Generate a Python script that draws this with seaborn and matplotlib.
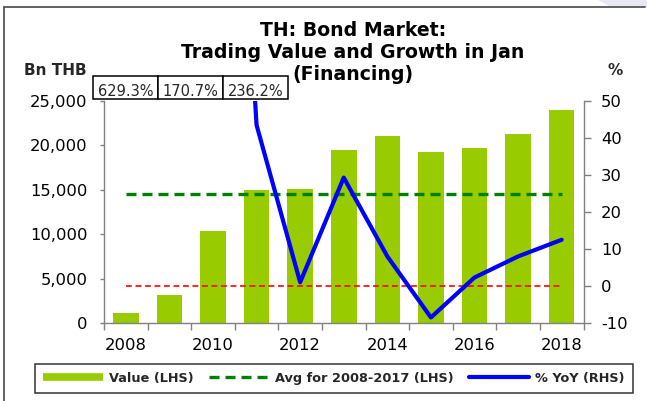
import numpy as np
import pandas as pd
import matplotlib
matplotlib.use("Agg")
import matplotlib.pyplot as plt
import seaborn as sns
from matplotlib.lines import Line2D
from matplotlib.patches import Rectangle, Polygon

# ---------------- data ----------------
years = [2008, 2009, 2010, 2011, 2012, 2013, 2014, 2015, 2016, 2017, 2018]
values = [1150, 3100, 10400, 14950, 15100, 19500, 21100, 19300, 19750, 21300, 24000]
yoy = [629.3, 170.7, 236.2, 43.5, 1.0, 29.3, 8.0, -8.5, 2.3, 8.0, 12.5]
avg_years = (2008, 2017)
tick_years = [2008, 2010, 2012, 2014, 2016, 2018]
left_ticks = [0, 5000, 10000, 15000, 20000, 25000]
right_ticks = [-10, 0, 10, 20, 30, 40, 50]
title_lines = ["TH: Bond Market:", "Trading Value and Growth in Jan", "(Financing)"]
left_unit = "Bn THB"
right_unit = "%"
legend_labels = ["Value (LHS)", "Avg for 2008-2017 (LHS)", "% YoY (RHS)"]

BAR_C = "#99CC00"
AVG_C = "#008000"
YOY_C = "#0000FF"
ZERO_C = "#FF0000"
SPINE_C = "#808080"

sns.set_theme(style="white")
plt.rcParams['font.family'] = ['DejaVu Sans']

W, H = 647, 401
fig = plt.figure(figsize=(W / 100, H / 100), dpi=100)
fig.patch.set_facecolor("white")


def fx(px):
    return px / W


def fy(py):
    return 1 - py / H


ax_l, ax_r, ax_t, ax_b = 104, 583.5, 101, 323
ax = fig.add_axes([fx(ax_l), fy(ax_b), fx(ax_r - ax_l), (ax_b - ax_t) / H])

df = pd.DataFrame({"year": years, "value": values, "yoy": yoy})
df["pos"] = np.arange(len(df))

sns.barplot(data=df, x="pos", y="value", color=BAR_C, width=0.585,
            saturation=1, linewidth=0, ax=ax, zorder=1)

avg_mask = (df["year"] >= avg_years[0]) & (df["year"] <= avg_years[1])
avg_val = df.loc[avg_mask, "value"].mean()
ax.plot([df["pos"].iloc[0], df["pos"].iloc[-1]], [avg_val, avg_val],
        color=AVG_C, lw=2.4, dashes=(3.0, 1.8), solid_capstyle="butt",
        dash_capstyle="butt", zorder=3)

ax.set_xlim(-0.5, len(df) - 0.5)
ax.set_ylim(left_ticks[0], left_ticks[-1])
ax.set_yticks(left_ticks)
ax.set_yticklabels([f"{v:,}" for v in left_ticks])
tick_pos = [years.index(y) for y in tick_years]
ax.set_xticks(tick_pos)
ax.set_xticklabels([str(y) for y in tick_years])
ax.set_xticks(np.arange(-0.5, len(df), 1.0), minor=True)
ax.set_xlabel("")
ax.set_ylabel("")

ax.tick_params(axis="y", which="major", left=True, direction="out", length=3,
               width=1, color=SPINE_C, pad=9, labelsize=11.8, labelcolor="black")
ax.tick_params(axis="x", which="major", bottom=True, length=0, pad=11,
               labelsize=11.8, labelcolor="black")
ax.tick_params(axis="x", which="minor", bottom=True, direction="out", length=5,
               width=1, color=SPINE_C)

for s in ["top", "right"]:
    ax.spines[s].set_visible(False)
for s in ["left", "bottom"]:
    ax.spines[s].set_color(SPINE_C)
    ax.spines[s].set_linewidth(1)
ax.grid(False)
ax.set_facecolor("none")

# right axis
ax2 = ax.twinx()
ax2.plot([df["pos"].iloc[0], df["pos"].iloc[-1]], [0, 0], color=ZERO_C, lw=1.2,
         dashes=(3.5, 2.2), zorder=2)
sns.lineplot(x=df["pos"], y=df["yoy"], ax=ax2, color=YOY_C, lw=3,
             zorder=4, sort=False)
ax2.set_ylim(right_ticks[0], right_ticks[-1])
ax2.set_yticks(right_ticks)
ax2.set_yticklabels([str(v) for v in right_ticks])
ax2.set_xlim(-0.5, len(df) - 0.5)
ax2.set_xlabel("")
ax2.set_ylabel("")
ax2.tick_params(axis="y", right=True, direction="out", length=5, width=1,
                color=SPINE_C, pad=7.5, labelsize=11.8, labelcolor="black")
for s in ["top", "left", "bottom"]:
    ax2.spines[s].set_visible(False)
ax2.spines["right"].set_color(SPINE_C)
ax2.spines["right"].set_linewidth(1)
ax2.grid(False)

# titles and unit labels
for line, base in zip(title_lines, [36, 58, 80]):
    fig.text(fx(353), fy(base), line, ha="center", va="baseline",
             fontsize=13.6, fontweight="bold", color="black")
fig.text(fx(55), fy(75), left_unit, ha="center", va="baseline",
         fontsize=11, fontweight="bold")
fig.text(fx(615), fy(75), right_unit, ha="center", va="baseline",
         fontsize=11, fontweight="bold")

# annotation boxes for off-scale growth values
off_scale = df[df["yoy"] > right_ticks[-1]]
box_w, box_x0, box_top, box_bot = 65, 93, 76, 99
for i, v in enumerate(off_scale["yoy"]):
    x0 = box_x0 + i * box_w
    fig.patches.append(Rectangle((fx(x0), fy(box_bot)), fx(box_w),
                                 (box_bot - box_top) / H, transform=fig.transFigure,
                                 facecolor="white", edgecolor="black", lw=1.1,
                                 zorder=5))
    fig.text(fx(x0 + box_w / 2), fy(96.5), f"{v:.1f}%", ha="center",
             va="baseline", fontsize=10.5, zorder=6)

# legend
handles = [
    Line2D([0], [0], color=BAR_C, lw=5.5, solid_capstyle="butt"),
    Line2D([0], [0], color=AVG_C, lw=2.4, dashes=(3.0, 1.8)),
    Line2D([0], [0], color=YOY_C, lw=3),
]
leg = fig.legend(handles, legend_labels, loc="center",
                 bbox_to_anchor=(fx(29), fy(395), fx(639) - fx(29), 33 / H),
                 mode="expand", ncol=3, frameon=True, fancybox=False,
                 handlelength=4.6, handleheight=1.0, handletextpad=0.5,
                 columnspacing=0.9, borderpad=0.6,
                 prop={"weight": "bold", "size": 9.3})
leg.get_frame().set_edgecolor("black")
leg.get_frame().set_linewidth(1.1)

# outer frame and decoration
fig.patches.append(Polygon([(fx(598), fy(0)), (fx(647), fy(0)), (fx(647), fy(7)),
                            (fx(611), fy(7))], closed=True, transform=fig.transFigure,
                           facecolor="#E8E8F2", edgecolor="none", zorder=0))
fig.lines.append(Line2D([fx(4), fx(4)], [0, fy(7)], transform=fig.transFigure,
                        color="#555555", lw=1.3))
fig.lines.append(Line2D([fx(4), fx(645)], [fy(7), fy(7)], transform=fig.transFigure,
                        color="#555555", lw=1.3))

fig.savefig("out.png", dpi=100)
